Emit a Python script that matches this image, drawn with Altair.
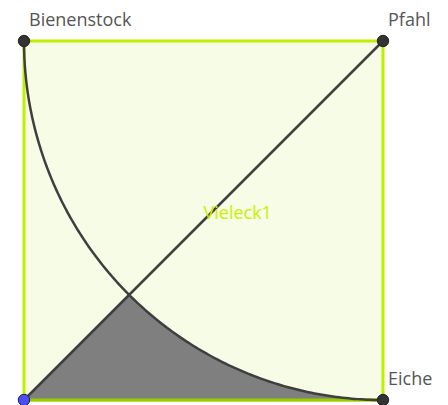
import altair as alt
import pandas as pd
import numpy as np

# Square vertices (side = 1)
point_names = ["Eiche", "Pfahl", "Bienenstock", "Start"]
point_x = [1.0, 1.0, 0.0, 0.0]
point_y = [0.0, 1.0, 1.0, 0.0]
point_colors = ["#333333", "#333333", "#333333", "#4d4dff"]
label_names = ["Bienenstock", "Pfahl", "Eiche"]
polygon_label = "Vieleck1"

side = 1.0
center = (point_x[1], point_y[1])  # arc centred at Pfahl, radius = side

# Arc from Bienenstock to Eiche (quarter circle centred at Pfahl)
t = np.linspace(np.pi, 1.5 * np.pi, 181)
arc = pd.DataFrame({"x": center[0] + side * np.cos(t), "y": center[1] + side * np.sin(t)})
arc["o"] = range(len(arc))

# intersection of diagonal with arc
p = 1 - side / np.sqrt(2)
xs = np.linspace(p, 1, 120)
shade_x = np.concatenate([[0.0], xs])
shade_y = np.concatenate([[0.0], center[1] - np.sqrt(np.clip(side**2 - (xs - center[0]) ** 2, 0, None))])
shade = pd.DataFrame({"x": shade_x, "y": shade_y, "y0": 0.0})

ppx = 359.0
xmin = -(24 - 8) / ppx
W, H = 432, 397
xmax = xmin + W / ppx
ytop = 1 + (41 - 8) / ppx
ymin = ytop - H / ppx

X = lambda f="x": alt.X(f"{f}:Q", scale=alt.Scale(domain=[xmin, xmax], nice=False, zero=False), axis=None)
Y = lambda f="y": alt.Y(f"{f}:Q", scale=alt.Scale(domain=[ymin, ytop], nice=False, zero=False), axis=None)

sq = pd.DataFrame({"x": [0.0], "x2": [1.0], "y": [0.0], "y2": [1.0]})
square = alt.Chart(sq).mark_rect(fill="#f7fce6", stroke="#bff000", strokeWidth=3, clip=False).encode(
    x=X(), x2="x2", y=Y(), y2="y2")

area = alt.Chart(shade).mark_area(color="#7f7f7f", opacity=1, interpolate="linear").encode(
    x=X(), y=Y(), y2="y0")

bottom = alt.Chart(pd.DataFrame({"x": [0.0, 1.0], "y": [0.0, 0.0]})).mark_line(
    color="#99cc00", strokeWidth=3).encode(x=X(), y=Y())

diag = alt.Chart(pd.DataFrame({"x": [point_x[3], point_x[1]], "y": [point_y[3], point_y[1]]})).mark_line(
    color="#3f3f3f", strokeWidth=2.5).encode(x=X(), y=Y())

arcline = alt.Chart(arc).mark_line(color="#3f3f3f", strokeWidth=2.5).encode(
    x=X(), y=Y(), order="o:Q")

pts = pd.DataFrame({"x": point_x, "y": point_y, "c": point_colors})
points = alt.Chart(pts).mark_point(filled=True, size=130, opacity=1, stroke="#222222", strokeWidth=1, clip=False).encode(
    x=X(), y=Y(), fill=alt.Fill("c:N", scale=None))

labs = pd.DataFrame({"x": [0.0, 1.0, 1.0], "y": [1.0, 1.0, 0.0], "t": label_names})
labels = alt.Chart(labs).mark_text(align="left", baseline="alphabetic", dx=5, dy=-15,
                                   font="Open Sans", fontSize=18, color="#555555").encode(
    x=X(), y=Y(), text="t:N")

vlab = alt.Chart(pd.DataFrame({"x": [0.5], "y": [0.5], "t": [polygon_label]})).mark_text(
    align="left", baseline="middle", dx=0, dy=-7, font="Open Sans", fontSize=18, color="#c8f000").encode(
    x=X(), y=Y(), text="t:N")

chart = alt.layer(square, area, bottom, diag, arcline, vlab, points, labels).properties(
    width=W, height=H, padding=0, autosize="none"
).configure_view(stroke=None)

chart.save("out.html", embed_options={"renderer": "svg", "actions": False})
